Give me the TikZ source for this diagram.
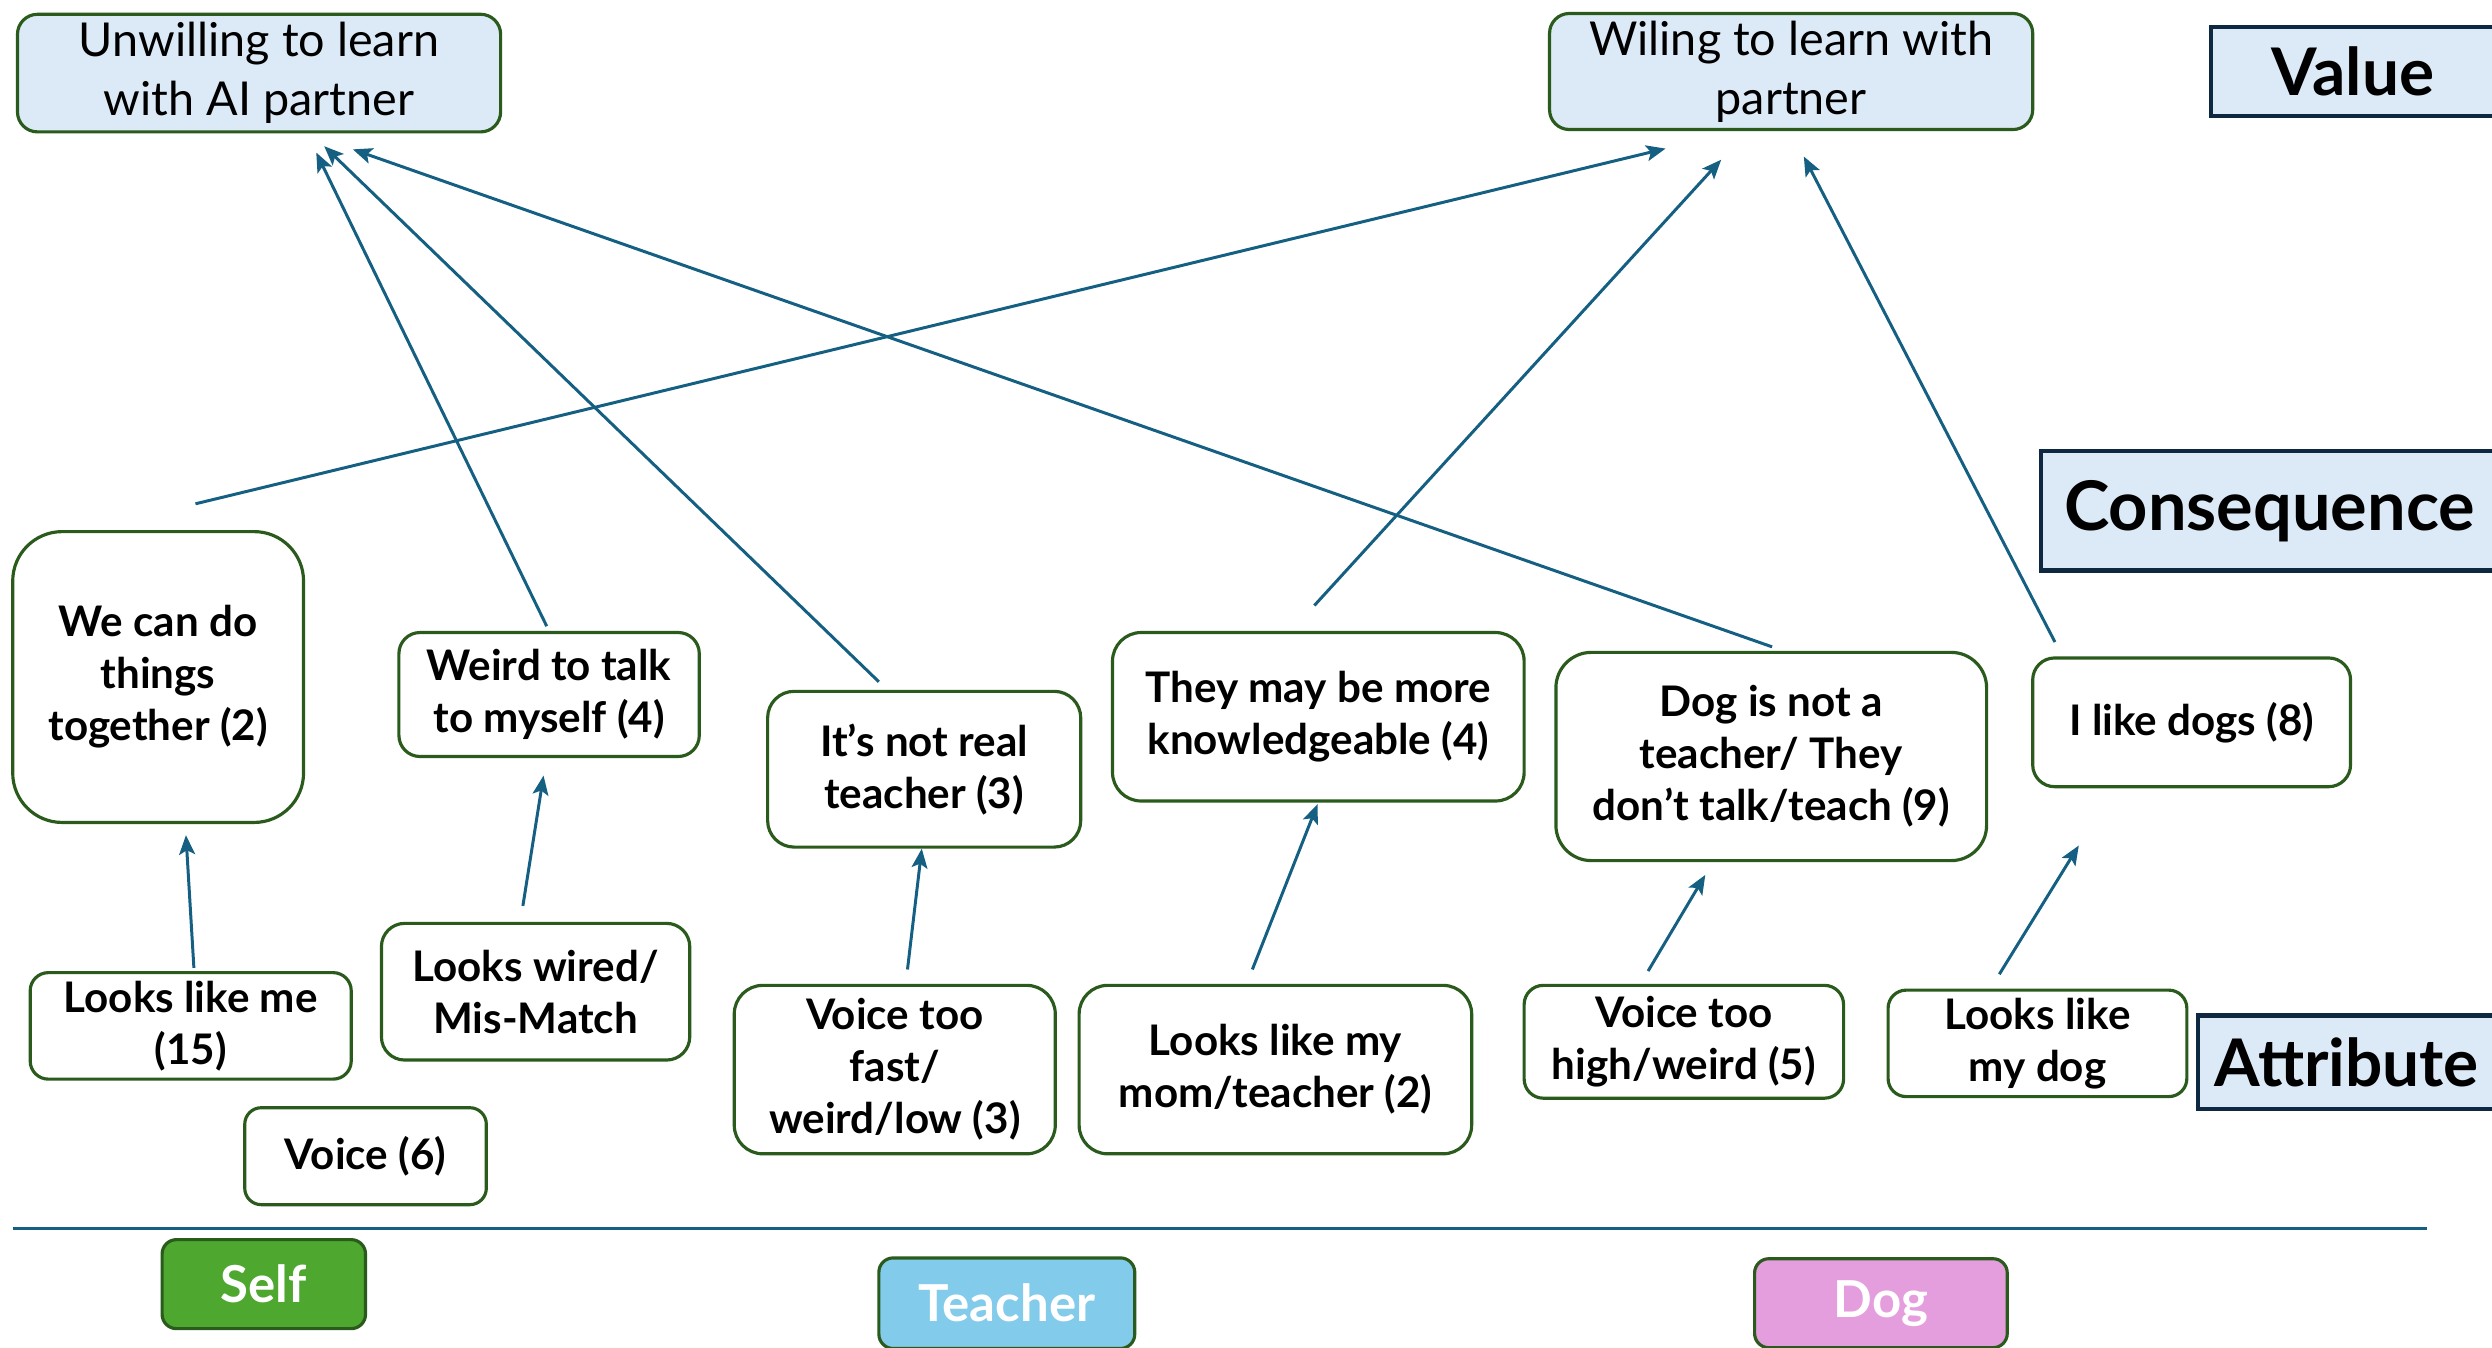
\documentclass[tikz,border=0pt]{standalone}
\usepackage{fontspec}
\setmainfont{Lato}
\usepackage{xcolor}
\usetikzlibrary{calc, arrows.meta}
\definecolor{azulclaro}{HTML}{DCEAF7}
\definecolor{verdeborde}{HTML}{2A5B1C}
\definecolor{azulnoche}{HTML}{0E2841}
\definecolor{flecha}{HTML}{156082}
\definecolor{verdeself}{HTML}{4EA72E}
\definecolor{celeste}{HTML}{83CBEB}
\definecolor{rosa}{HTML}{E59EDD}
\newcommand{\unidad}{0.015893cm}

\begin{document}
\begin{tikzpicture}[x=0.015893cm, y=-0.015893cm]
      % Definimos algunos estilos
      \tikzset{
        caja/.style 2 args={
          rectangle,
          draw=verdeborde,
          line width=0.9pt,
          fill=white,
          align=center,
          inner sep=0pt,
          minimum width=#1*\unidad,
          minimum height=#2*\unidad,
          rounded corners=#2*0.17*\unidad,
          font=\bfseries\fontsize{12}{14.8}\selectfont
        },
        % los valores de arriba
        valor/.style 2 args={caja={#1}{#2}, fill=azulclaro, font=\fontsize{13.3}{16.8}\selectfont},
        % etiquetas de nivel a la derecha
        nivel/.style 2 args={
          rectangle,
          draw=azulnoche,
          line width=1.2pt,
          fill=azulclaro,
          inner sep=0pt,
          minimum width=#1*\unidad,
          minimum height=#2*\unidad,
          font=\bfseries\fontsize{18.7}{22}\selectfont
        },
        % grupos de abajo
        grupo/.style={
          rectangle,
          draw=verdeborde,
          line width=0.9pt,
          fill=#1,
          text=white,
          inner sep=0pt,
          minimum height=56*\unidad,
          rounded corners=9*\unidad,
          font=\bfseries\fontsize{14.5}{16}\selectfont
        },
        enlace/.style={-{Stealth[length=5.5pt, width=4.5pt, inset=1.2pt]}, draw=flecha, line width=0.85pt}
      }

      \useasboundingbox (0,0) rectangle (1568,848);
      \clip (0,0) rectangle (1568,848);

      % valores
      \node[valor={304}{74}] (unwill) at (163, 46) {Unwilling to learn\\with AI partner};
      \node[valor={304}{73}] (willing) at (1127, 45) {Wiling to learn with\\partner};

      % niveles
      \node[nivel={179}{56}] (value) at (1480.5, 45) {Value};
      \node[nivel={288}{75}, font=\bfseries\fontsize{19.5}{22}\selectfont] (conseq) at (1428, 321.5) {Consequence};
      \node[nivel={187}{59}] (attrib) at (1476.5, 668.5) {Attribute};

      % consecuencias
      \node[caja={183}{183}] (cando) at (99.5, 426) {We can do\\things\\together (2)};
      \node[caja={189}{78}] (talkself) at (345.5, 437) {Weird to talk\\to myself (4)};
      \node[caja={197}{98}] (notreal) at (581.5, 484) {It’s not real\\teacher (3)};
      \node[caja={259}{106}] (knowmore) at (829.5, 451) {They may be more\\knowledgeable (4)};
      \node[caja={271}{131}] (notteacher) at (1114.5, 476) {Dog is not a\\teacher/ They\\don’t talk/teach (9)};
      \node[caja={200}{81}] (likedogs) at (1379, 454.5) {I like dogs (8)};

      % atributos
      \node[caja={202}{67}] (likeme) at (120, 645.5) {Looks like me\\(15)};
      \node[caja={194}{86}] (wired) at (337, 624) {Looks wired/\\Mis-Match};
      \node[caja={152}{61}] (voice) at (230, 727.5) {Voice (6)};
      \node[caja={202}{106}] (fastlow) at (563, 673) {Voice too\\fast/\\weird/low (3)};
      \node[caja={247}{106}] (mom) at (802.5, 673) {Looks like my\\mom/teacher (2)};
      \node[caja={201}{71}] (highweird) at (1059.5, 655.5) {Voice too\\high/weird (5)};
      \node[caja={188}{67}] (mydog) at (1282, 656.5) {Looks like\\my dog};

      % linea de abajo y grupos
      \draw[flecha, line width=1.1pt] (8, 773) -- (1527, 773);
      \node[grupo=verdeself, minimum width=128*\unidad] (self) at (166, 808) {Self};
      \node[grupo=celeste, minimum width=161*\unidad, minimum height=57*\unidad] (teacher) at (633.5, 820) {Teacher};
      \node[grupo=rosa, minimum width=159*\unidad] (dog) at (1183.5, 820) {Dog};

      % de consecuencia a valor
      \draw[enlace] ($(cando.north)+(23.5,-16.5)$) -- ($(willing.south)+(-79,11)$);
      \draw[enlace] ($(talkself.north)+(-1.5,-3)$) -- ($(unwill.south)+(36,12)$);
      \draw[enlace] ($(notreal.north)+(-28.5,-5)$) -- ($(unwill.south)+(41,8)$);
      \draw[enlace] ($(notteacher.north)+(0.5,-2.5)$) -- ($(unwill.south)+(59,10)$);
      \draw[enlace] ($(knowmore.north)+(-2.5,-16)$) -- ($(willing.south)+(-44,18)$);
      \draw[enlace] ($(likedogs.north west)+(15,-9)$) -- ($(willing.south)+(8,16)$);

      % de atributo a consecuencia
      \draw[enlace] ($(likeme.north)+(2,-2)$) -- ($(cando.south)+(17.5,7)$);
      \draw[enlace] ($(wired.north)+(-8,-10)$) -- ($(talkself.south)+(-3.5,11)$);
      \draw[enlace] ($(fastlow.north)+(8,-9)$) -- ($(notreal.south)+(-1.5,0)$);
      \draw[enlace] ($(mom.north)+(-14.5,-9)$) -- ($(knowmore.south)+(-0.5,1)$);
      \draw[enlace] ($(highweird.north)+(-22.5,-8)$) -- ($(notteacher.south)+(-41.5,8)$);
      \draw[enlace] ($(mydog.north)+(-24,-9)$) -- ($(likedogs.south)+(-71,36)$);
\end{tikzpicture}
\end{document}
